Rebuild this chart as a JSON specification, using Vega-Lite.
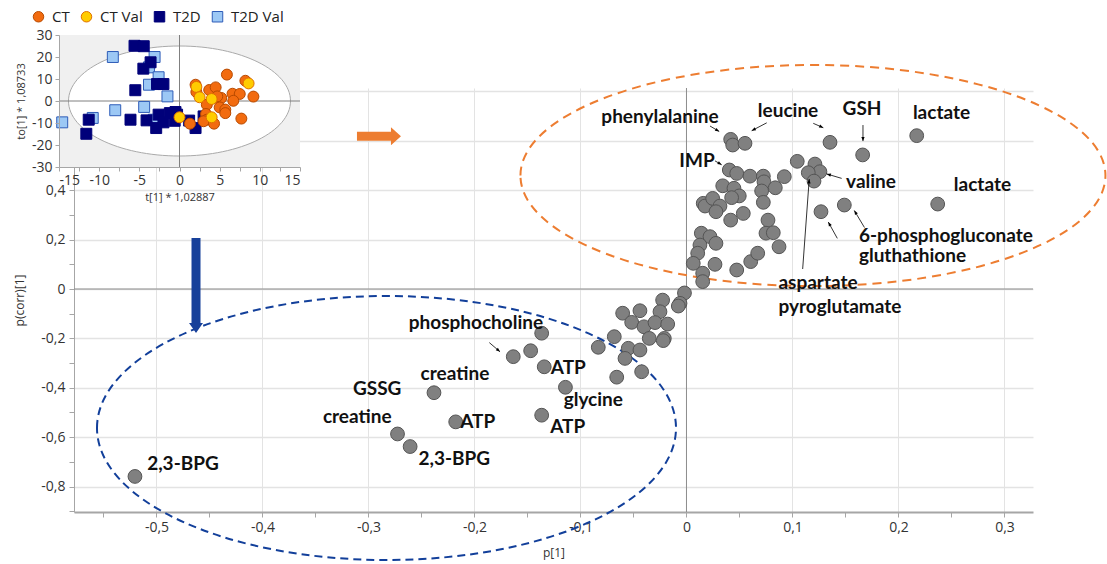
{
  "$schema": "https://vega.github.io/schema/vega-lite/v6.json",
  "width": 959,
  "height": 424,
  "autosize": "none",
  "padding": {"left": 74, "top": 88, "right": 74, "bottom": 52},
  "background": "white",
  "config": {
    "view": {"stroke": null},
    "font": "Open Sans",
    "axis": {"labelFont": "Open Sans", "titleFont": "Open Sans"}
  },
  "datasets": {
    "main": [
      {"p": 0.0417, "pcorr": 0.606}, {"p": 0.0436, "pcorr": 0.583}, {"p": 0.0552, "pcorr": 0.590},
      {"p": 0.1354, "pcorr": 0.594}, {"p": 0.1662, "pcorr": 0.543}, {"p": 0.2172, "pcorr": 0.621},
      {"p": 0.2370, "pcorr": 0.344}, {"p": 0.1045, "pcorr": 0.517}, {"p": 0.1212, "pcorr": 0.506},
      {"p": 0.1259, "pcorr": 0.475}, {"p": 0.1149, "pcorr": 0.471}, {"p": 0.1203, "pcorr": 0.437},
      {"p": 0.0404, "pcorr": 0.482}, {"p": 0.0474, "pcorr": 0.468}, {"p": 0.0599, "pcorr": 0.457},
      {"p": 0.0725, "pcorr": 0.457}, {"p": 0.0731, "pcorr": 0.434}, {"p": 0.0923, "pcorr": 0.455},
      {"p": 0.0838, "pcorr": 0.410}, {"p": 0.0709, "pcorr": 0.397}, {"p": 0.0342, "pcorr": 0.418},
      {"p": 0.0448, "pcorr": 0.408}, {"p": 0.0498, "pcorr": 0.377}, {"p": 0.0426, "pcorr": 0.370},
      {"p": 0.0158, "pcorr": 0.347}, {"p": 0.0175, "pcorr": 0.336}, {"p": 0.0247, "pcorr": 0.367},
      {"p": 0.0316, "pcorr": 0.336}, {"p": 0.0278, "pcorr": 0.313}, {"p": 0.0725, "pcorr": 0.351},
      {"p": 0.0417, "pcorr": 0.279}, {"p": 0.0536, "pcorr": 0.306}, {"p": 0.0769, "pcorr": 0.279},
      {"p": 0.0750, "pcorr": 0.226}, {"p": 0.0819, "pcorr": 0.228}, {"p": 0.0873, "pcorr": 0.171},
      {"p": 0.1269, "pcorr": 0.313}, {"p": 0.1489, "pcorr": 0.340}, {"p": 0.0140, "pcorr": 0.226},
      {"p": 0.0222, "pcorr": 0.212}, {"p": 0.0278, "pcorr": 0.185}, {"p": 0.0127, "pcorr": 0.178},
      {"p": 0.0106, "pcorr": 0.145}, {"p": 0.0064, "pcorr": 0.104}, {"p": 0.0269, "pcorr": 0.100},
      {"p": 0.0474, "pcorr": 0.077}, {"p": 0.0606, "pcorr": 0.111}, {"p": 0.0672, "pcorr": 0.145},
      {"p": 0.0153, "pcorr": 0.064}, {"p": 0.0153, "pcorr": 0.030},
      {"p": -0.0019, "pcorr": -0.016}, {"p": -0.0061, "pcorr": -0.058}, {"p": -0.0077, "pcorr": -0.069},
      {"p": -0.0225, "pcorr": -0.045}, {"p": -0.0602, "pcorr": -0.098}, {"p": -0.0439, "pcorr": -0.088},
      {"p": -0.0250, "pcorr": -0.092}, {"p": -0.0517, "pcorr": -0.135}, {"p": -0.0401, "pcorr": -0.153},
      {"p": -0.0297, "pcorr": -0.136}, {"p": -0.0177, "pcorr": -0.142}, {"p": -0.0351, "pcorr": -0.200},
      {"p": -0.0209, "pcorr": -0.200}, {"p": -0.0219, "pcorr": -0.209}, {"p": -0.0681, "pcorr": -0.193},
      {"p": -0.0832, "pcorr": -0.236}, {"p": -0.0549, "pcorr": -0.240}, {"p": -0.0439, "pcorr": -0.247},
      {"p": -0.0580, "pcorr": -0.281}, {"p": -0.0423, "pcorr": -0.335}, {"p": -0.0658, "pcorr": -0.357},
      {"p": -0.1366, "pcorr": -0.179}, {"p": -0.1470, "pcorr": -0.250}, {"p": -0.1634, "pcorr": -0.274},
      {"p": -0.1342, "pcorr": -0.315}, {"p": -0.1142, "pcorr": -0.398}, {"p": -0.1366, "pcorr": -0.511},
      {"p": -0.2382, "pcorr": -0.420}, {"p": -0.2177, "pcorr": -0.538}, {"p": -0.2726, "pcorr": -0.587},
      {"p": -0.2607, "pcorr": -0.638}, {"p": -0.5203, "pcorr": -0.759}
    ],
    "labels": [
      {"label": "phenylalanine", "p": -0.0250, "pcorr": 0.696},
      {"label": "leucine", "p": 0.0958, "pcorr": 0.721},
      {"label": "GSH", "p": 0.1656, "pcorr": 0.729},
      {"label": "lactate", "p": 0.2406, "pcorr": 0.711},
      {"label": "IMP", "p": 0.0099, "pcorr": 0.518},
      {"label": "valine", "p": 0.1741, "pcorr": 0.433},
      {"label": "lactate", "p": 0.2792, "pcorr": 0.423},
      {"label": "6-phosphogluconate", "p": 0.2448, "pcorr": 0.215},
      {"label": "gluthathione", "p": 0.2132, "pcorr": 0.132},
      {"label": "aspartate", "p": 0.1241, "pcorr": 0.024},
      {"label": "pyroglutamate", "p": 0.1448, "pcorr": -0.073},
      {"label": "phosphocholine", "p": -0.1986, "pcorr": -0.136},
      {"label": "creatine", "p": -0.2184, "pcorr": -0.344},
      {"label": "GSSG", "p": -0.2918, "pcorr": -0.406},
      {"label": "ATP", "p": -0.1115, "pcorr": -0.320},
      {"label": "glycine", "p": -0.0879, "pcorr": -0.449},
      {"label": "creatine", "p": -0.3106, "pcorr": -0.518},
      {"label": "ATP", "p": -0.1970, "pcorr": -0.540},
      {"label": "ATP", "p": -0.1121, "pcorr": -0.559},
      {"label": "2,3-BPG", "p": -0.2191, "pcorr": -0.689},
      {"label": "2,3-BPG", "p": -0.4750, "pcorr": -0.709}
    ],
    "arrows": [
      {"p": 0.0222, "pcorr": 0.660, "p2": 0.0309, "pcorr2": 0.638},
      {"p": 0.0757, "pcorr": 0.673, "p2": 0.0615, "pcorr2": 0.641},
      {"p": 0.1196, "pcorr": 0.671, "p2": 0.1291, "pcorr2": 0.653},
      {"p": 0.1665, "pcorr": 0.664, "p2": 0.1665, "pcorr2": 0.599},
      {"p": 0.0269, "pcorr": 0.519, "p2": 0.0332, "pcorr2": 0.503},
      {"p": 0.1464, "pcorr": 0.448, "p2": 0.1323, "pcorr2": 0.466},
      {"p": 0.1679, "pcorr": 0.249, "p2": 0.1583, "pcorr2": 0.318},
      {"p": 0.1423, "pcorr": 0.205, "p2": 0.1338, "pcorr2": 0.271},
      {"p": 0.1096, "pcorr": 0.081, "p2": 0.1158, "pcorr2": 0.445},
      {"p": -0.1860, "pcorr": -0.217, "p2": -0.1759, "pcorr2": -0.254}
    ],
    "inset": [
      {"group": "T2D Val", "t": -8.3, "to": 20.0}, {"group": "T2D Val", "t": -3.1, "to": 20.0},
      {"group": "T2D Val", "t": -3.8, "to": 15.3}, {"group": "T2D Val", "t": -2.6, "to": 10.8},
      {"group": "T2D Val", "t": -3.8, "to": 7.4}, {"group": "T2D Val", "t": -1.5, "to": 2.1},
      {"group": "T2D Val", "t": -8.0, "to": -4.2}, {"group": "T2D Val", "t": -4.4, "to": -2.7},
      {"group": "T2D Val", "t": -10.8, "to": -7.7}, {"group": "T2D Val", "t": -14.6, "to": -9.7},
      {"group": "T2D Val", "t": -3.2, "to": -8.5},
      {"group": "T2D", "t": -5.6, "to": 25.1}, {"group": "T2D", "t": -4.45, "to": 24.9},
      {"group": "T2D", "t": -3.6, "to": 17.6}, {"group": "T2D", "t": -4.5, "to": 14.7},
      {"group": "T2D", "t": -2.8, "to": 7.7}, {"group": "T2D", "t": -2.0, "to": 7.7},
      {"group": "T2D", "t": -5.5, "to": 4.9}, {"group": "T2D", "t": -6.1, "to": -8.5},
      {"group": "T2D", "t": -11.3, "to": -8.5}, {"group": "T2D", "t": -11.6, "to": -14.9},
      {"group": "T2D", "t": -4.1, "to": -8.8}, {"group": "T2D", "t": -2.9, "to": -12.3},
      {"group": "T2D", "t": -2.6, "to": -6.2}, {"group": "T2D", "t": -2.0, "to": -9.7},
      {"group": "T2D", "t": -1.2, "to": -5.5}, {"group": "T2D", "t": -0.5, "to": -5.0},
      {"group": "T2D", "t": -0.6, "to": -9.0}, {"group": "T2D", "t": -0.3, "to": -6.2},
      {"group": "T2D", "t": 2.0, "to": -12.3}, {"group": "T2D", "t": 3.0, "to": -7.0},
      {"group": "T2D", "t": 1.2, "to": -8.9},
      {"group": "CT", "t": 5.9, "to": 12.0}, {"group": "CT", "t": 2.0, "to": 7.4},
      {"group": "CT", "t": 2.1, "to": 4.1}, {"group": "CT", "t": 3.7, "to": 5.0},
      {"group": "CT", "t": 4.5, "to": 6.2}, {"group": "CT", "t": 8.2, "to": 9.2},
      {"group": "CT", "t": 9.2, "to": 2.0}, {"group": "CT", "t": 6.6, "to": 3.3},
      {"group": "CT", "t": 7.5, "to": 3.2}, {"group": "CT", "t": 6.7, "to": 0.1},
      {"group": "CT", "t": 4.9, "to": 1.0}, {"group": "CT", "t": 5.2, "to": 1.4},
      {"group": "CT", "t": 3.4, "to": -1.7}, {"group": "CT", "t": 5.0, "to": -2.9},
      {"group": "CT", "t": 5.7, "to": -3.9}, {"group": "CT", "t": 5.7, "to": -5.5},
      {"group": "CT", "t": 3.3, "to": -5.9}, {"group": "CT", "t": 3.4, "to": -8.5},
      {"group": "CT", "t": 3.0, "to": -9.2}, {"group": "CT", "t": 4.3, "to": -10.3},
      {"group": "CT", "t": 7.7, "to": -8.0}, {"group": "CT", "t": 1.3, "to": -10.3},
      {"group": "CT", "t": 4.7, "to": 2.1},
      {"group": "CT Val", "t": 2.1, "to": 6.4}, {"group": "CT Val", "t": 2.5, "to": 1.7},
      {"group": "CT Val", "t": 4.0, "to": 0.9}, {"group": "CT Val", "t": 8.6, "to": 8.0},
      {"group": "CT Val", "t": 0.0, "to": -7.4}, {"group": "CT Val", "t": 4.0, "to": -7.4}
    ]
  },
  "layer": [
    {
      "layer": [
        {
          "data": {"name": "main"},
          "mark": {"type": "point", "filled": true, "opacity": 0, "size": 1},
          "encoding": {
            "x": {
              "field": "p", "type": "quantitative",
              "scale": {"domain": [-0.5778, 0.3269], "nice": false, "zero": false},
              "axis": {
                "orient": "bottom",
                "values": [-0.55, -0.5, -0.45, -0.4, -0.35, -0.3, -0.25, -0.2, -0.15, -0.1, -0.05, 0, 0.05, 0.1, 0.15, 0.2, 0.25, 0.3],
                "labelExpr": "abs(datum.value*10 - round(datum.value*10)) < 0.001 ? replace(toString(datum.value), '.', ',') : ''",
                "labelFontSize": 14, "labelColor": "#333333", "labelPadding": 3, "labelOverlap": false,
                "domainColor": "#a6a6a6", "domainWidth": 2,
                "tickColor": "#a6a6a6", "tickSize": 5,
                "grid": true, "gridColor": "#e3e3e3", "gridWidth": 1,
                "gridOpacity": {"condition": {"test": "abs(datum.value*10 - round(datum.value*10)) < 0.001", "value": 1}, "value": 0},
                "title": "p[1]", "titleFontSize": 12, "titleFontWeight": "normal", "titleColor": "#333333", "titlePadding": 13,
                "zindex": 0
              }
            },
            "y": {
              "field": "pcorr", "type": "quantitative",
              "scale": {"domain": [-0.903, 0.814], "nice": false, "zero": false},
              "axis": {
                "orient": "left",
                "values": [-0.8, -0.6, -0.4, -0.2, 0, 0.2, 0.4, 0.6, 0.8],
                "labelExpr": "datum.value > 0.5 ? '' : replace(toString(datum.value), '.', ',')",
                "labelFontSize": 14, "labelColor": "#333333", "labelPadding": 4, "labelOverlap": false,
                "domainColor": "#a6a6a6", "domainWidth": 1,
                "tickColor": "#a6a6a6", "tickSize": 5,
                "grid": true, "gridColor": "#e3e3e3", "gridWidth": 1.5,
                "title": "p(corr)[1]", "titleFontSize": 12, "titleFontWeight": "normal", "titleColor": "#333333", "titlePadding": 14,
                "zindex": 0
              }
            }
          }
        },
        {
          "data": {"values": [{}]},
          "mark": {"type": "rule", "color": "#8c8c8c", "strokeWidth": 1},
          "encoding": {"x": {"datum": 0, "type": "quantitative"}}
        },
        {
          "data": {"values": [{}]},
          "mark": {"type": "rule", "color": "#8c8c8c", "strokeWidth": 1},
          "encoding": {"y": {"datum": 0, "type": "quantitative"}}
        },
        {
          "data": {"values": [{}]},
          "mark": {"type": "point", "shape": "M-1,0C-1,-0.2088,-0.5523,-0.378,0,-0.378C0.5523,-0.378,1,-0.2088,1,0C1,0.2088,0.5523,0.378,0,0.378C-0.5523,0.378,-1,0.2088,-1,0Z", "size": 342225, "filled": false, "stroke": "#ED7D31", "strokeWidth": 2, "strokeDash": [9, 6], "opacity": 1},
          "encoding": {"x": {"datum": 0.1193, "type": "quantitative"}, "y": {"datum": 0.4595, "type": "quantitative"}}
        },
        {
          "data": {"values": [{}]},
          "mark": {"type": "point", "shape": "M-1,0C-1,-0.2518,-0.5523,-0.456,0,-0.456C0.5523,-0.456,1,-0.2518,1,0C1,0.2518,0.5523,0.456,0,0.456C-0.5523,0.456,-1,0.2518,-1,0Z", "size": 335241, "filled": false, "stroke": "#123f9a", "strokeWidth": 2, "strokeDash": [8, 5], "opacity": 1},
          "encoding": {"x": {"datum": -0.283, "type": "quantitative"}, "y": {"datum": -0.5628, "type": "quantitative"}}
        },
        {
          "data": {"values": [{}]},
          "mark": {"type": "point", "shape": "M-1,-0.2045L0.545,-0.2045L0.545,-0.409L1,0L0.545,0.409L0.545,0.2045L-1,0.2045Z", "size": 1936, "filled": true, "color": "#ED7D31", "opacity": 1},
          "encoding": {"x": {"datum": -0.2901, "type": "quantitative"}, "y": {"datum": 0.619, "type": "quantitative"}}
        },
        {
          "data": {"values": [{}]},
          "mark": {"type": "point", "shape": "M-0.0947,-1L0.0947,-1L0.0947,0.789L0.147,0.789L0,1L-0.147,0.789L-0.0947,0.789Z", "size": 9025, "filled": true, "color": "#17409a", "opacity": 1},
          "encoding": {"x": {"datum": -0.4627, "type": "quantitative"}, "y": {"datum": 0.0142, "type": "quantitative"}}
        },
        {
          "data": {"name": "main"},
          "mark": {"type": "point", "filled": true, "fill": "#808080", "stroke": "#555555", "strokeWidth": 1, "size": 190, "opacity": 1},
          "encoding": {"x": {"field": "p", "type": "quantitative"}, "y": {"field": "pcorr", "type": "quantitative"}}
        },
        {
          "data": {"name": "arrows"},
          "mark": {"type": "rule", "color": "#000000", "strokeWidth": 0.8},
          "encoding": {
            "x": {"field": "p", "type": "quantitative"}, "y": {"field": "pcorr", "type": "quantitative"},
            "x2": {"field": "p2"}, "y2": {"field": "pcorr2"}
          }
        },
        {
          "data": {"name": "arrows"},
          "transform": [{"calculate": "atan2((datum.p2 - datum.p) * 1060, (datum.pcorr2 - datum.pcorr) * 247) * 180 / PI", "as": "ang"}],
          "mark": {"type": "point", "shape": "M0,0L0.55,1.4L-0.55,1.4Z", "size": 36, "filled": true, "color": "#000000", "opacity": 1},
          "encoding": {
            "x": {"field": "p2", "type": "quantitative"}, "y": {"field": "pcorr2", "type": "quantitative"},
            "angle": {"field": "ang", "type": "quantitative", "scale": null}
          }
        },
        {
          "data": {"name": "labels"},
          "mark": {"type": "text", "font": "Lato", "fontWeight": "bold", "fontSize": 19, "color": "#111111", "align": "center", "baseline": "middle"},
          "encoding": {
            "x": {"field": "p", "type": "quantitative"}, "y": {"field": "pcorr", "type": "quantitative"},
            "text": {"field": "label"}
          }
        }
      ]
    },
    {
      "data": {"values": [{}]},
      "mark": {"type": "point", "opacity": 0, "size": 1},
      "encoding": {
        "x": {"datum": 0, "type": "quantitative", "scale": {"domain": [-0.5778, 0.3269], "nice": false, "zero": false}, "axis": null},
        "y": {
          "datum": 0, "type": "quantitative",
          "scale": {"domain": [-0.903, 0.814], "nice": false, "zero": false},
          "axis": {
            "orient": "left", "values": [-0.9, -0.7, -0.5, -0.3, -0.1, 0.1, 0.3, 0.5, 0.7],
            "labels": false, "domain": false, "grid": false, "tickSize": 5, "tickColor": "#a6a6a6", "title": null, "zindex": 0
          }
        }
      }
    },
    {
      "layer": [
        {
          "data": {"values": [{}]},
          "mark": {"type": "rect", "fill": "#f0f0f0"},
          "encoding": {
            "x": {"datum": -15, "type": "quantitative"}, "x2": {"datum": 15},
            "y": {"datum": -30, "type": "quantitative"}, "y2": {"datum": 30}
          }
        },
        {
          "data": {"values": [{}]},
          "mark": {"type": "point", "shape": "M-1,0C-1,-0.2737,-0.5523,-0.4955,0,-0.4955C0.5523,-0.4955,1,-0.2737,1,0C1,0.2737,0.5523,0.4955,0,0.4955C-0.5523,0.4955,-1,0.2737,-1,0Z", "size": 49284, "filled": true, "fill": "#ffffff", "stroke": "#aaaaaa", "strokeWidth": 1, "opacity": 1},
          "encoding": {"x": {"datum": 0, "type": "quantitative"}, "y": {"datum": 0, "type": "quantitative"}}
        },
        {
          "data": {"values": [{}]},
          "mark": {"type": "rule", "color": "#808080", "strokeWidth": 1},
          "encoding": {"x": {"datum": 0, "type": "quantitative"}, "y": {"datum": -30, "type": "quantitative"}, "y2": {"datum": 30}}
        },
        {
          "data": {"values": [{}]},
          "mark": {"type": "rule", "color": "#808080", "strokeWidth": 1},
          "encoding": {"y": {"datum": 0, "type": "quantitative"}, "x": {"datum": -15, "type": "quantitative"}, "x2": {"datum": 15}}
        },
        {
          "data": {"name": "inset"},
          "mark": {"type": "point", "filled": true, "size": 120, "strokeWidth": 1, "opacity": 1},
          "encoding": {
            "x": {
              "field": "t", "type": "quantitative",
              "scale": {"domain": [-15, 15], "range": [-15, 226], "nice": false, "zero": false},
              "axis": {
                "orient": "bottom", "offset": -345,
                "values": [-15, -12.5, -10, -7.5, -5, -2.5, 0, 2.5, 5, 7.5, 10, 12.5, 15],
                "labelExpr": "datum.value % 5 === 0 ? toString(datum.value) : ''",
                "labelFontSize": 14, "labelColor": "#333333", "labelPadding": 2, "labelOverlap": false,
                "domainColor": "#a6a6a6", "tickColor": "#a6a6a6", "tickSize": 4, "grid": false,
                "title": "t[1] * 1,02887", "titleFontSize": 11, "titleFontWeight": "normal", "titleColor": "#333333", "titlePadding": 4,
                "zindex": 1
              }
            },
            "y": {
              "field": "to", "type": "quantitative",
              "scale": {"domain": [-30, 30], "range": [79, -53], "nice": false, "zero": false},
              "axis": {
                "orient": "left", "offset": 15,
                "values": [-30, -25, -20, -15, -10, -5, 0, 5, 10, 15, 20, 25, 30],
                "labelExpr": "datum.value % 10 === 0 ? toString(datum.value) : ''",
                "labelFontSize": 14, "labelColor": "#333333", "labelPadding": 3, "labelOverlap": false,
                "domainColor": "#a6a6a6", "tickColor": "#a6a6a6", "tickSize": 4, "grid": false,
                "title": "to[1] * 1,08733", "titleFontSize": 11, "titleFontWeight": "normal", "titleColor": "#333333", "titlePadding": 5,
                "zindex": 1
              }
            },
            "fill": {
              "field": "group", "type": "nominal",
              "scale": {"domain": ["CT", "CT Val", "T2D", "T2D Val"], "range": ["#F26B0F", "#FFCC00", "#00007A", "#9CC8F5"]},
              "legend": {
                "orient": "none", "legendX": -43, "legendY": -79, "direction": "horizontal", "title": null,
                "labelFontSize": 15, "labelColor": "#222222", "symbolSize": 110, "columnPadding": 9, "labelOffset": 6,
                "symbolStrokeWidth": 1
              }
            },
            "stroke": {
              "field": "group", "type": "nominal",
              "scale": {"domain": ["CT", "CT Val", "T2D", "T2D Val"], "range": ["#B84A00", "#E07000", "#00007A", "#2E5CB8"]}
            },
            "shape": {
              "field": "group", "type": "nominal",
              "scale": {"domain": ["CT", "CT Val", "T2D", "T2D Val"], "range": ["circle", "circle", "square", "square"]}
            }
          }
        }
      ]
    }
  ],
  "resolve": {"scale": {"x": "independent", "y": "independent"}}
}
